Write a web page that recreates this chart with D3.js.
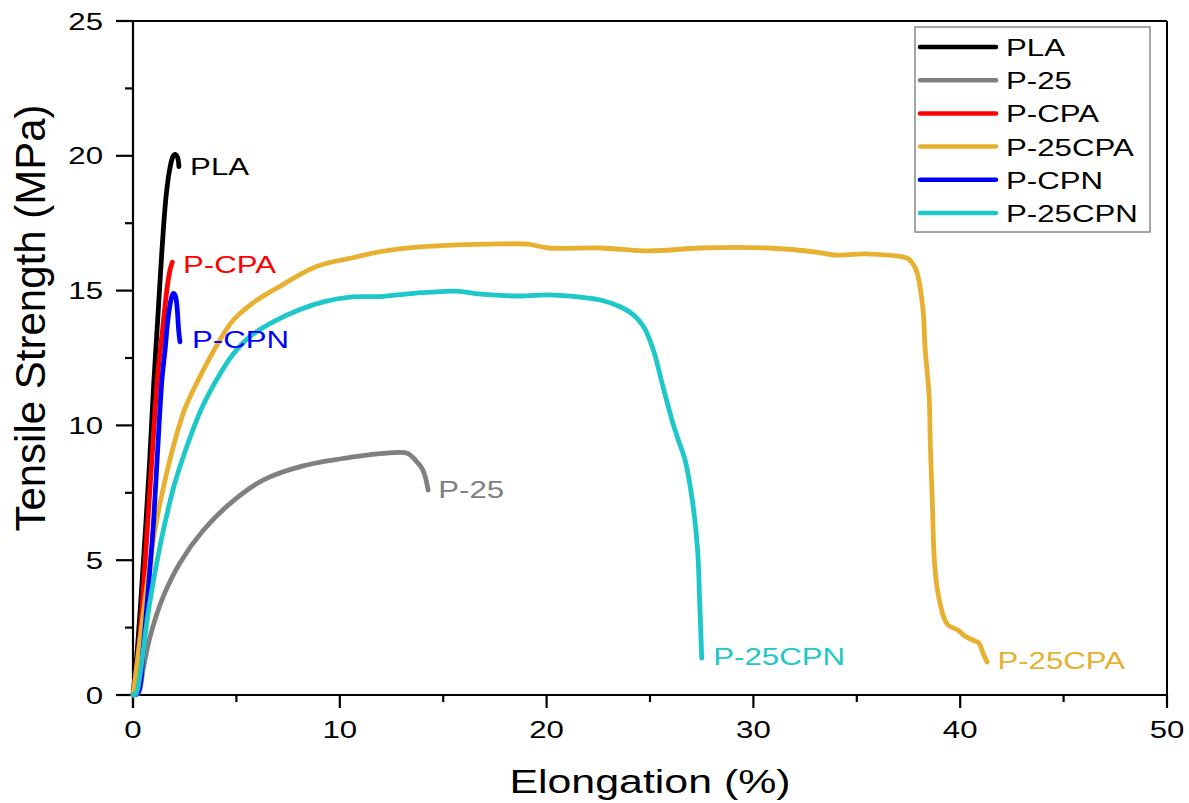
<!DOCTYPE html>
<html>
<head>
<meta charset="utf-8">
<script src="https://cdn.jsdelivr.net/npm/d3@7/dist/d3.min.js"></script>
<style>
  html, body { margin: 0; padding: 0; background: #fff; }
  svg { display: block; font-family: "Liberation Sans", Arial, sans-serif; }
</style>
</head>
<body>
<svg id="chart" width="1189" height="803"></svg>
<script>
// ---- data (Elongation %, Tensile Strength MPa) ----
const seriesNames = ["PLA", "P-25", "P-CPA", "P-25CPA", "P-CPN", "P-25CPN"];
const seriesColors = ["#000000", "#808080", "#ff0000", "#e8b030", "#0000ff", "#1ec8c8"];

const PLA = [[0,0],[0.2,1.6],[0.5,4.9],[0.8,8.6],[1.0,11.5],[1.2,14.0],[1.4,16.5],[1.6,18.5],[1.8,19.6],[1.95,20.0],[2.05,20.05],[2.15,19.95],[2.22,19.6]];
const P25 = [[0,0],[0.25,0.05],[0.5,1.0],[0.82,2.15],[1.45,3.63],[2.27,4.9],[3.39,6.1],[4.69,7.1],[6.29,7.97],[8.22,8.5],[10.64,8.83],[12.29,8.97],[13.26,8.97],[13.74,8.64],[13.98,8.4],[14.13,8.1],[14.27,7.6]];
const PCPA = [[0,0],[0.3,1.9],[0.6,5.1],[0.9,8.6],[1.2,11.9],[1.45,13.7],[1.65,15.1],[1.8,15.8],[1.9,16.05]];
const P25CPA = [[0,0],[0.1,0.55],[0.5,3.04],[1.06,6.12],[1.5,7.8],[1.95,9.21],[2.5,10.6],[3.2,11.75],[4.0,12.9],[4.84,13.9],[5.9,14.6],[6.97,15.1],[8.9,15.9],[10.5,16.2],[12.0,16.45],[13.6,16.6],[17.8,16.73],[19.1,16.72],[20.1,16.58],[22.6,16.58],[25.0,16.47],[27.4,16.58],[30.7,16.58],[33.1,16.42],[33.9,16.32],[35.5,16.36],[37.45,16.2],[37.7,16.0],[37.9,15.7],[38.2,14.3],[38.3,12.9],[38.5,11.05],[38.55,9.46],[38.65,7.2],[38.75,5.0],[38.9,3.9],[39.2,2.9],[39.4,2.6],[39.9,2.4],[40.2,2.2],[40.6,2.04],[40.9,1.93],[41.1,1.56],[41.3,1.22]];
const PCPN = [[0,0],[0.25,0.1],[0.5,1.8],[0.8,4.5],[1.0,6.5],[1.2,9.2],[1.4,11.7],[1.55,12.8],[1.7,14.0],[1.85,14.7],[1.95,14.9],[2.05,14.8],[2.15,14.2],[2.2,13.6],[2.27,13.1]];
const P25CPN = [[0,0],[0.15,0.05],[0.35,0.8],[0.73,3.04],[1.1,4.7],[1.47,6.12],[2.0,7.8],[2.6,9.21],[3.3,10.6],[4.05,11.7],[4.8,12.6],[5.66,13.3],[6.8,13.85],[8.08,14.3],[9.3,14.6],[10.5,14.76],[11.95,14.78],[13.6,14.9],[15.6,14.98],[16.8,14.87],[18.7,14.8],[20.1,14.84],[21.6,14.76],[22.6,14.65],[23.56,14.4],[24.2,14.1],[24.7,13.65],[25.16,12.8],[25.64,11.4],[26.1,10.1],[26.37,9.46],[26.7,8.7],[27.05,7.2],[27.3,5.4],[27.4,3.5],[27.5,1.37]];
const seriesData = [PLA, P25, PCPA, P25CPA, PCPN, P25CPN];

// annotation labels: [text, x, y(baseline), colorIndex]
const annotations = [["PLA", 2.76, 19.29, 0], ["P-CPA", 2.42, 15.65, 2], ["P-CPN", 2.85, 12.87, 4], ["P-25", 14.76, 7.31, 1], ["P-25CPN", 28.06, 1.11, 5], ["P-25CPA", 41.8, 0.96, 3]];

const xTicks = [0, 10, 20, 30, 40, 50];
const xMinor = [5, 15, 25, 35, 45];
const yTicks = [0, 5, 10, 15, 20, 25];
const yMinor = [2.5, 7.5, 12.5, 17.5, 22.5];

// ---- layout ----
const svg = d3.select("#chart");
const L = 133, R = 1167, T = 21, B = 695;
const x = d3.scaleLinear().domain([0, 50]).range([L, R]);
const y = d3.scaleLinear().domain([0, 25]).range([B, T]);
const SX = 1.3;

// frame (top/right)
svg.append("line").attr("x1", L).attr("x2", R).attr("y1", T).attr("y2", T).attr("stroke", "#000").attr("stroke-width", 2);
svg.append("line").attr("x1", R).attr("x2", R).attr("y1", T).attr("y2", B).attr("stroke", "#000").attr("stroke-width", 2);

// x axis
const gx = svg.append("g");
gx.append("line").attr("x1", L - 1).attr("x2", R + 1).attr("y1", B).attr("y2", B).attr("stroke", "#000").attr("stroke-width", 2.2);
xTicks.forEach(t => {
  gx.append("line").attr("x1", x(t)).attr("x2", x(t)).attr("y1", B).attr("y2", B + 13).attr("stroke", "#000").attr("stroke-width", 2.2);
  gx.append("text").attr("transform", `translate(${x(t)},738) scale(${SX},1)`)
    .attr("text-anchor", "middle").attr("font-size", 24).attr("fill", "#000").text(t);
});
xMinor.forEach(t => {
  gx.append("line").attr("x1", x(t)).attr("x2", x(t)).attr("y1", B).attr("y2", B + 7).attr("stroke", "#000").attr("stroke-width", 2.2);
});
svg.append("text").attr("transform", `translate(${(L + R) / 2},793) scale(1.28,1)`)
  .attr("text-anchor", "middle").attr("font-size", 33.5).attr("fill", "#000").text("Elongation (%)");

// y axis
const gy = svg.append("g");
gy.append("line").attr("x1", L).attr("x2", L).attr("y1", T - 1).attr("y2", B + 13).attr("stroke", "#000").attr("stroke-width", 2.2);
yTicks.forEach(t => {
  gy.append("line").attr("x1", L - 17).attr("x2", L).attr("y1", y(t)).attr("y2", y(t)).attr("stroke", "#000").attr("stroke-width", 2.2);
  gy.append("text").attr("transform", `translate(103,${y(t) + 8.5}) scale(${SX},1)`)
    .attr("text-anchor", "end").attr("font-size", 24).attr("fill", "#000").text(t);
});
yMinor.forEach(t => {
  gy.append("line").attr("x1", L - 8).attr("x2", L).attr("y1", y(t)).attr("y2", y(t)).attr("stroke", "#000").attr("stroke-width", 2.2);
});
svg.append("text").attr("transform", `translate(45,318) rotate(-90)`)
  .attr("text-anchor", "middle").attr("font-size", 42).attr("fill", "#000").text("Tensile Strength (MPa)");

// curves
const line = d3.line().x(d => x(d[0])).y(d => y(d[1])).curve(d3.curveCatmullRom.alpha(0.5));
seriesData.forEach((data, i) => {
  svg.append("path").datum(data).attr("d", line)
    .attr("fill", "none").attr("stroke", seriesColors[i]).attr("stroke-width", 4.8)
    .attr("stroke-linejoin", "round").attr("stroke-linecap", "round");
});

// annotations
annotations.forEach(a => {
  svg.append("text").attr("transform", `translate(${x(a[1])},${y(a[2])}) scale(${SX},1)`)
    .attr("font-size", 24).attr("fill", seriesColors[a[3]]).text(a[0]);
});

// legend
const lg = svg.append("g");
lg.append("rect").attr("x", 915).attr("y", 27).attr("width", 235).attr("height", 205)
  .attr("fill", "#fff").attr("stroke", "#888").attr("stroke-width", 1.5);
seriesNames.forEach((n, i) => {
  const cy = 47 + i * 33.2;
  lg.append("line").attr("x1", 920).attr("x2", 996).attr("y1", cy).attr("y2", cy)
    .attr("stroke", seriesColors[i]).attr("stroke-width", 4.5).attr("stroke-linecap", "round");
  lg.append("text").attr("transform", `translate(1006,${cy + 9}) scale(${SX},1)`)
    .attr("font-size", 24).attr("fill", "#000").text(n);
});
</script>
</body>
</html>
